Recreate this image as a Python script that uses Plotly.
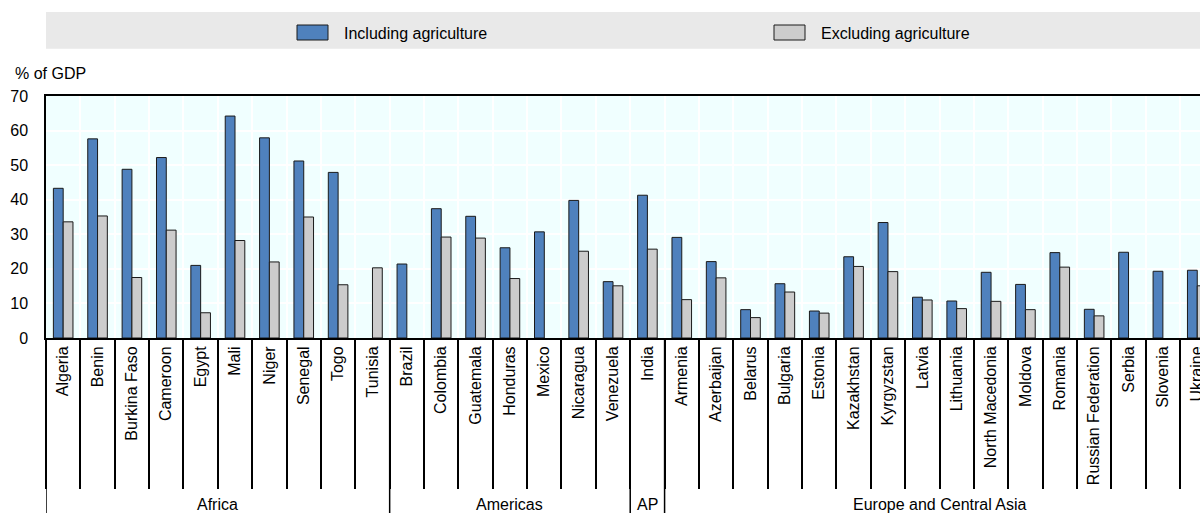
import plotly.graph_objects as go

regions = (["Africa"] * 10 + ["Americas"] * 7 + ["AP"] + ["Europe and Central Asia"] * 16)
countries = ["Algeria", "Benin", "Burkina Faso", "Cameroon", "Egypt", "Mali", "Niger",
             "Senegal", "Togo", "Tunisia",
             "Brazil", "Colombia", "Guatemala", "Honduras", "Mexico", "Nicaragua", "Venezuela",
             "India",
             "Armenia", "Azerbaijan", "Belarus", "Bulgaria", "Estonia", "Kazakhstan",
             "Kyrgyzstan", "Latvia", "Lithuania", "North Macedonia", "Moldova", "Romania",
             "Russian Federation", "Serbia", "Slovenia", "Ukraine"]
including_agriculture = [43.3, 57.6, 48.8, 52.2, 21.0, 64.2, 57.9, 51.2, 47.9, None,
                         21.4, 37.4, 35.2, 26.1, 30.7, 39.8, 16.3,
                         41.3,
                         29.1, 22.1, 8.2, 15.7, 7.8, 23.5, 33.4, 11.8, 10.7, 19.0, 15.5,
                         24.7, 8.3, 24.8, 19.3, 19.6]
excluding_agriculture = [33.6, 35.3, 17.5, 31.2, 7.3, 28.2, 22.0, 35.0, 15.4, 20.3,
                         None, 29.2, 28.9, 17.2, None, 25.1, 15.1,
                         25.7,
                         11.1, 17.4, 5.9, 13.3, 7.2, 20.7, 19.2, 11.0, 8.5, 10.6, 8.2,
                         20.5, 6.4, None, None, 15.1]
series_names = ["Including agriculture", "Excluding agriculture"]
y_ticks = [0, 10, 20, 30, 40, 50, 60, 70]

BLUE = "#4F81BD"
GREY = "#CCCCCC"
FONT = "Liberation Sans, Arial, sans-serif"

# layout geometry (pixels)
FIG_W, FIG_H = 1200, 513
M_L, M_T, M_B = 46, 96, 175
PLOT_W = FIG_W - M_L
PLOT_H = FIG_H - M_T - M_B


def py(px):
    """pixel y (from top) -> paper y"""
    return 1 - (px - M_T) / PLOT_H


def pxx(px):
    """pixel x (from left) -> paper x"""
    return (px - M_L) / PLOT_W


fig = go.Figure()
for name, vals, col in [(series_names[0], including_agriculture, BLUE),
                        (series_names[1], excluding_agriculture, GREY)]:
    fig.add_trace(go.Bar(
        x=countries, y=vals, name=name,
        marker=dict(color=col, line=dict(color="#1a1a1a", width=1)),
        showlegend=False,
    ))

# legend band and manual legend
fig.add_shape(type="rect", xref="paper", yref="paper", x0=0, x1=1.0,
              y0=py(48.7), y1=py(12), fillcolor="#E9E9E9", line=dict(width=0),
              layer="below")
for i, (name, col) in enumerate(zip(series_names, [BLUE, GREY])):
    sx = [297, 774][i]
    fig.add_shape(type="rect", xref="paper", yref="paper",
                  x0=pxx(sx), x1=pxx(sx + 31), y0=py(40), y1=py(25),
                  fillcolor=col, line=dict(color="#1a1a1a", width=1))
    fig.add_annotation(xref="paper", yref="paper", x=pxx([342, 819][i]), y=py(33.5),
                       text=name, showarrow=False, xanchor="left", yanchor="middle",
                       font=dict(family=FONT, size=16, color="#000"))

fig.add_annotation(xref="paper", yref="paper", x=pxx(13), y=py(73),
                   text="% of GDP", showarrow=False, xanchor="left", yanchor="middle",
                   font=dict(family=FONT, size=16, color="#000"))

# region groups: dividers and labels
bounds = [0]
for i in range(1, len(regions)):
    if regions[i] != regions[i - 1]:
        bounds.append(i)
bounds.append(len(regions))
for b in bounds:
    fig.add_shape(type="line", xref="x", yref="paper", x0=b - 0.5, x1=b - 0.5,
                  y0=0, y1=py(FIG_H + 2), line=dict(color="#000", width=1.5))
for a, b in zip(bounds[:-1], bounds[1:]):
    fig.add_annotation(xref="x", yref="paper", x=(a + b - 1) / 2, y=py(504),
                       text=regions[a], showarrow=False, xanchor="center",
                       yanchor="middle", font=dict(family=FONT, size=16, color="#000"))

fig.update_layout(
    autosize=True,
    margin=dict(l=M_L, r=0, t=M_T, b=M_B, pad=0, autoexpand=False),
    paper_bgcolor="white", plot_bgcolor="#F0FFFF",
    barmode="group", bargap=0.43, bargroupgap=0,
    font=dict(family=FONT, size=16, color="#000"),
)
fig.update_xaxes(
    type="category", range=[-0.5, 33.08], automargin=False,
    tickson="boundaries", ticks="outside", ticklen=149, tickwidth=1.5, tickcolor="#000",
    tickangle=-90, tickfont=dict(family=FONT, size=16),
    showgrid=True, gridcolor="white", gridwidth=1.5,
    showline=True, linecolor="#000", linewidth=2, mirror=True,
)
fig.update_yaxes(
    range=[0, 70], tickvals=y_ticks, showgrid=True, gridcolor="white", gridwidth=1.5,
    showline=True, linecolor="#000", linewidth=1.5, zeroline=False, automargin=False,
    ticks="", ticklabelstandoff=13, tickfont=dict(family=FONT, size=16),
)

# pin the figure to the window corner (the page body has a default 8px margin)
fig.write_html("out.html",
               default_width="1200px;position:fixed;left:0;top:0;margin:0",
               default_height="513px",
               config={"responsive": False, "displayModeBar": False})
